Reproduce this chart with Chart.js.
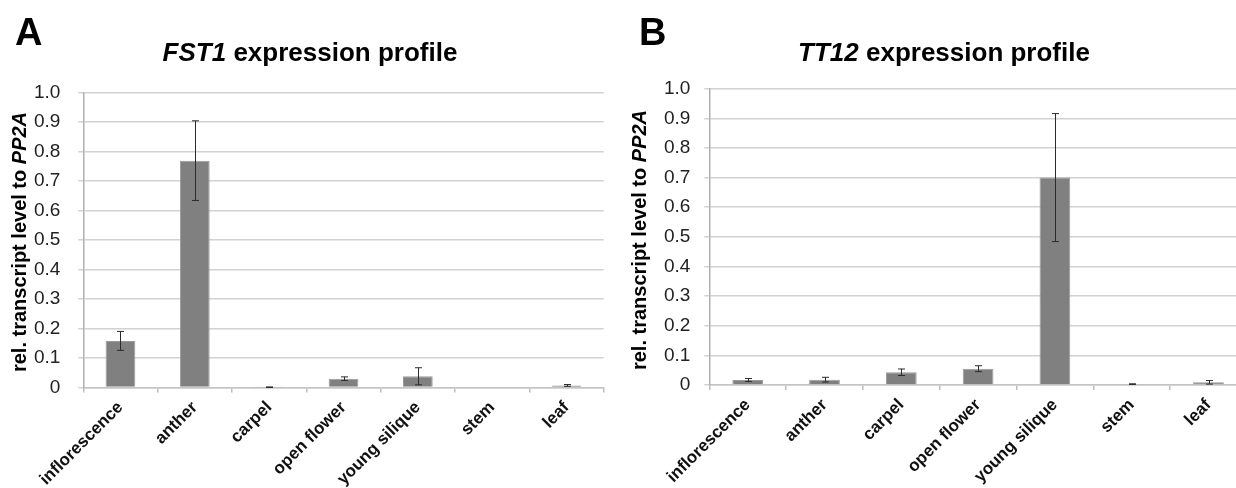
<!DOCTYPE html>
<html>
<head>
<meta charset="utf-8">
<title>FST1 / TT12 expression profile</title>
<script src="https://cdn.jsdelivr.net/npm/chart.js@4.4.0/dist/chart.umd.min.js"></script>
<style>
  html, body { margin: 0; padding: 0; background: #fff; overflow: hidden; }
  body { width: 1236px; height: 488px; position: relative; font-family: "Liberation Sans", Arial, sans-serif; color: #000; }
  canvas { position: absolute; top: 0; }
  .letter { position: absolute; top: 12.5px; font-weight: bold; font-size: 38px; line-height: 38px; }
  .title { position: absolute; top: 38.5px; width: 400px; text-align: center; font-weight: bold; font-size: 26px; line-height: 26px; white-space: nowrap; }
  .ytitle { position: absolute; font-weight: bold; font-size: 20px; line-height: 20px; white-space: nowrap; transform: translate(-50%, -50%) rotate(-90deg); }
</style>
</head>
<body>
<canvas id="chartA" width="620" height="488" style="left:0"></canvas>
<canvas id="chartB" width="640" height="488" style="left:620px"></canvas>

<div class="letter" style="left:15px">A</div>
<div class="title" style="left:110px"><i>FST1</i> expression profile</div>
<div class="ytitle" style="left:19px; top:242px">rel. transcript level to <i>PP2A</i></div>

<div class="letter" style="left:639px">B</div>
<div class="title" style="left:744px"><i>TT12</i> expression profile</div>
<div class="ytitle" style="left:638.7px; top:240px">rel. transcript level to <i>PP2A</i></div>

<script>
// tissues on the x axis
var tissues = ["inflorescence", "anther", "carpel", "open flower", "young silique", "stem", "leaf"];

// FST1 relative transcript level and error (+/-)
var fst1Values = [0.158, 0.769, 0.001, 0.030, 0.038, 0, 0.007];
var fst1Errors = [0.032, 0.135, 0.001, 0.006, 0.029, 0, 0.003];

// TT12 relative transcript level and error (+/-)
var tt12Values = [0.017, 0.018, 0.043, 0.055, 0.700, 0.003, 0.009];
var tt12Errors = [0.005, 0.008, 0.011, 0.010, 0.216, 0.001, 0.006];

// y axis tick labels, 0 to 1 by 0.1
var yTickLabels = ["0", "0.1", "0.2", "0.3", "0.4", "0.5", "0.6", "0.7", "0.8", "0.9", "1.0"];

var fontFamily = '"Liberation Sans", Arial, sans-serif';

// draws the whiskers with small caps on top of each bar
var errorBars = {
  id: "errorBars",
  afterDatasetsDraw: function (chart, args, opts) {
    var ctx = chart.ctx;
    var yScale = chart.scales.y;
    var values = chart.data.datasets[0].data;
    ctx.save();
    ctx.strokeStyle = "#2b2b2b";
    ctx.lineWidth = 1;
    chart.getDatasetMeta(0).data.forEach(function (bar, i) {
      var err = opts.errors[i];
      if (!err) return;
      var top = yScale.getPixelForValue(values[i] + err);
      var bottom = yScale.getPixelForValue(values[i] - err);
      var x = Math.round(bar.x) + 0.5;
      ctx.beginPath();
      ctx.moveTo(x, top);
      ctx.lineTo(x, bottom);
      ctx.moveTo(x - 3.5, top);
      ctx.lineTo(x + 3.5, top);
      ctx.moveTo(x - 3.5, bottom);
      ctx.lineTo(x + 3.5, bottom);
      ctx.stroke();
    });
    ctx.restore();
  }
};

function makeChart(id, values, errors, box) {
  var ctx = document.getElementById(id).getContext("2d");
  return new Chart(ctx, {
    type: "bar",
    data: {
      labels: tissues,
      datasets: [{
        data: values,
        backgroundColor: "#808080",
        borderColor: "#9a9a9a",
        borderWidth: 1,
        barPercentage: 0.4,
        categoryPercentage: 1
      }]
    },
    plugins: [errorBars],
    options: {
      responsive: false,
      animation: false,
      layout: { padding: { top: box.top, right: box.right, left: 0, bottom: 0 } },
      plugins: {
        legend: { display: false },
        tooltip: { enabled: false },
        errorBars: { errors: errors }
      },
      scales: {
        x: {
          grid: { drawOnChartArea: false, drawTicks: true, tickLength: 5, color: "#bdbdbd", lineWidth: 1.5 },
          border: { display: true, color: "#c4c4c4", width: 1.5 },
          ticks: {
            minRotation: 45,
            maxRotation: 45,
            autoSkip: false,
            padding: 5,
            color: "#111",
            font: { family: fontFamily, size: 17, weight: "bold" }
          },
          afterFit: function (scale) { scale.height = box.xHeight; }
        },
        y: {
          min: 0,
          max: 1,
          ticks: {
            stepSize: 0.1,
            padding: box.tickPad,
            color: "#222",
            font: { family: fontFamily, size: 19 },
            callback: function (v, i) { return yTickLabels[i]; }
          },
          grid: { color: "#d2d2d2", lineWidth: 1.5, tickLength: 5 },
          border: { display: true, color: "#b0b0b0", width: 1.5 },
          afterFit: function (scale) { scale.width = box.yWidth; }
        }
      }
    }
  });
}

makeChart("chartA", fst1Values, fst1Errors, { top: 92.5, right: 16.3, xHeight: 100.5, yWidth: 83.3, tickPad: 18 });
makeChart("chartB", tt12Values, tt12Errors, { top: 88.7, right: 13.1, xHeight: 103, yWidth: 89.3, tickPad: 14 });
</script>
</body>
</html>
